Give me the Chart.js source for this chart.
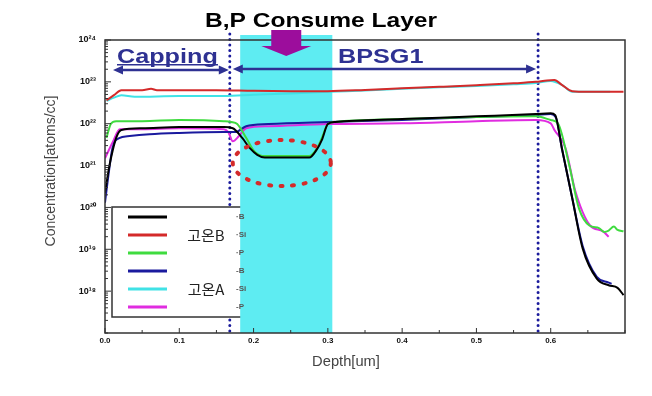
<!DOCTYPE html>
<html>
<head>
<meta charset="utf-8">
<script src="https://cdn.jsdelivr.net/npm/chart.js@4.4.0/dist/chart.umd.min.js"></script>
<style>
html, body { margin: 0; padding: 0; background: #fff; }
#wrap { width: 652px; height: 396px; }
</style>
</head>
<body>
<div id="wrap"><canvas id="simsChart" width="652" height="396"></canvas></div>
<script>
// Depth [um] / concentration [atoms/cc]
// 고온B
var depthBB  = [0.0, 0.005, 0.008, 0.015, 0.022, 0.05, 0.1, 0.16, 0.172, 0.185, 0.195, 0.205, 0.215, 0.25, 0.275, 0.285, 0.292, 0.3, 0.31, 0.4, 0.5, 0.58, 0.6, 0.606, 0.615, 0.629, 0.643, 0.662, 0.678, 0.69, 0.698];
var concBB   = [2.2e20, 8e20, 1.5e21, 4.6e21, 7.1e21, 7.8e21, 8.3e21, 8.3e21, 7.8e21, 4.5e21, 2.6e21, 1.8e21, 1.55e21, 1.55e21, 1.55e21, 2.4e21, 4.1e21, 9.8e21, 1.1e22, 1.29e22, 1.5e22, 1.7e22, 1.78e22, 1.6e22, 2.6e21, 1.66e20, 1.05e19, 2.0e18, 1.38e18, 1.2e18, 8e17];
var depthBSi = [0.002, 0.012, 0.022, 0.05, 0.062, 0.07, 0.1, 0.15, 0.2, 0.25, 0.3, 0.35, 0.4, 0.45, 0.5, 0.55, 0.58, 0.595, 0.605, 0.615, 0.629, 0.65, 0.698];
var concBSi  = [3.6e22, 4.8e22, 6.3e22, 6.3e22, 6.8e22, 6.3e22, 6.3e22, 6.3e22, 6.1e22, 6.0e22, 6.0e22, 6.4e22, 7.0e22, 7.6e22, 8.3e22, 9.2e22, 1.0e23, 1.08e23, 1.1e23, 8.5e22, 6.0e22, 5.8e22, 5.8e22];
var depthBP  = [0.002, 0.008, 0.015, 0.05, 0.1, 0.16, 0.17, 0.178, 0.19, 0.2, 0.212, 0.25, 0.275, 0.285, 0.292, 0.3, 0.31, 0.4, 0.5, 0.58, 0.6, 0.61, 0.625, 0.638, 0.652, 0.665, 0.672, 0.678, 0.685, 0.69, 0.698];
var concBP   = [4.6e21, 1.0e22, 1.15e22, 1.15e22, 1.23e22, 1.15e22, 1.1e22, 9.8e21, 4.6e21, 2.3e21, 1.7e21, 1.7e21, 1.7e21, 2.5e21, 4.6e21, 9.8e21, 1.1e22, 1.29e22, 1.45e22, 1.5e22, 1.23e22, 1.0e22, 1.0e21, 9.5e19, 3.7e19, 3.2e19, 2.6e19, 2.8e19, 3.5e19, 2.9e19, 2.7e19];
// 고온A
var depthAB  = [0.0, 0.005, 0.01, 0.02, 0.03, 0.06, 0.1, 0.16, 0.175, 0.19, 0.22, 0.3, 0.4, 0.5, 0.58, 0.6, 0.607, 0.615, 0.629, 0.643, 0.662, 0.678, 0.682];
var concAB   = [1.3e20, 6.6e20, 2.6e21, 4.6e21, 5.0e21, 5.6e21, 6.0e21, 6.3e21, 6.3e21, 8.7e21, 9.8e21, 1.1e22, 1.23e22, 1.45e22, 1.62e22, 1.7e22, 1.4e22, 2.6e21, 1.66e20, 1.2e19, 2.2e18, 1.6e18, 1.5e18];
var depthASi = [0.002, 0.012, 0.022, 0.04, 0.1, 0.16, 0.2, 0.25, 0.3, 0.35, 0.4, 0.45, 0.5, 0.55, 0.58, 0.6, 0.615, 0.629, 0.65, 0.68];
var concASi  = [3.5e22, 4.2e22, 4.8e22, 4.4e22, 4.6e22, 4.6e22, 4.9e22, 5.3e22, 5.8e22, 6.2e22, 6.8e22, 7.4e22, 8.0e22, 8.8e22, 9.4e22, 1.05e23, 8.5e22, 5.8e22, 5.8e22, 5.8e22];
var depthAP  = [0.0, 0.01, 0.02, 0.05, 0.1, 0.16, 0.166, 0.172, 0.18, 0.19, 0.22, 0.3, 0.4, 0.5, 0.58, 0.6, 0.605, 0.62, 0.633, 0.653, 0.67, 0.678];
var concAP   = [1.5e21, 3.5e21, 7.4e21, 7.4e21, 7.8e21, 7.4e21, 6.3e21, 3.8e21, 5.0e21, 7.8e21, 8.7e21, 9.8e21, 1.02e22, 1.15e22, 1.23e22, 1.02e22, 7.1e21, 2.6e21, 2.5e20, 3.7e19, 2.7e19, 2.0e19];

var xTickLabels = ["0.0", "0.1", "0.2", "0.3", "0.4", "0.5", "0.6"];
var yExponents  = [18, 19, 20, 21, 22, 23, 24];
var groupNames  = ["고온B", "고온A"];
var seriesTags  = ["·B", "·Si", "·P", "-B", "-Si", "-P"];

// layer marks (depth, um)
var cappingEnd = 0.168, bpsgEnd = 0.583;
var consumeFrom = 0.182, consumeTo = 0.306;

var SUP = { "0": "⁰", "1": "¹", "2": "²", "3": "³", "4": "⁴", "5": "⁵", "6": "⁶", "7": "⁷", "8": "⁸", "9": "⁹" };

function pts(xs, ys) {
    return xs.map(function (x, i) { return { x: x, y: ys[i] }; });
}

function line(label, xs, ys, color) {
    return { label: label, data: pts(xs, ys), borderColor: color, backgroundColor: color, showLine: true, borderWidth: 2, pointRadius: 0, fill: false };
}

function wideText(ctx, text, x, y, sx, align) {
    ctx.save();
    ctx.translate(x, y);
    ctx.scale(sx, 1);
    ctx.textAlign = align;
    ctx.fillText(text, 0, 0);
    ctx.restore();
}

function doubleArrow(ctx, x1, x2, y) {
    ctx.beginPath();
    ctx.moveTo(x1 + 6, y); ctx.lineTo(x2 - 6, y);
    ctx.stroke();
    ctx.beginPath();
    ctx.moveTo(x1, y); ctx.lineTo(x1 + 10, y - 4.5); ctx.lineTo(x1 + 10, y + 4.5); ctx.closePath();
    ctx.moveTo(x2, y); ctx.lineTo(x2 - 10, y - 4.5); ctx.lineTo(x2 - 10, y + 4.5); ctx.closePath();
    ctx.fill();
}

var overlay = {
    id: 'overlay',
    beforeDatasetsDraw: function (chart) {
        var ctx = chart.ctx, a = chart.chartArea, xs = chart.scales.x;
        ctx.save();
        // dotted layer boundaries
        ctx.strokeStyle = '#1b1b9c';
        ctx.lineWidth = 3;
        ctx.lineCap = 'round';
        ctx.setLineDash([0, 5.5]);
        [cappingEnd, bpsgEnd].forEach(function (d) {
            var px = xs.getPixelForValue(d);
            ctx.beginPath(); ctx.moveTo(px, a.top - 6); ctx.lineTo(px, a.bottom); ctx.stroke();
        });
        ctx.setLineDash([]);
        ctx.lineCap = 'butt';

        // legend box
        var bx = a.left + 7, by = 207;
        ctx.fillStyle = '#fff';
        ctx.fillRect(bx, by, 140, 110);
        ctx.strokeStyle = '#333';
        ctx.lineWidth = 1.5;
        ctx.strokeRect(bx, by, 140, 110);
        chart.data.datasets.forEach(function (ds, i) {
            var ly = by + 10 + i * 18;
            ctx.strokeStyle = ds.borderColor;
            ctx.lineWidth = 3;
            ctx.beginPath(); ctx.moveTo(bx + 16, ly); ctx.lineTo(bx + 55, ly); ctx.stroke();
        });

        // B,P consume band
        var x1 = xs.getPixelForValue(consumeFrom), x2 = xs.getPixelForValue(consumeTo);
        ctx.fillStyle = '#5eecf2';
        ctx.fillRect(x1, a.top - 5, x2 - x1, a.bottom - a.top + 5);
        ctx.restore();
    },
    afterDatasetsDraw: function (chart) {
        var ctx = chart.ctx, a = chart.chartArea, xs = chart.scales.x, ys = chart.scales.y;
        ctx.save();

        // frame
        ctx.strokeStyle = '#333';
        ctx.lineWidth = 1.5;
        ctx.strokeRect(a.left, a.top, a.right - a.left, a.bottom - a.top);

        // inward ticks
        ctx.lineWidth = 1;
        ys.ticks.forEach(function (t, i) {
            var m = t.value / Math.pow(10, Math.floor(Math.log10(t.value) + 1e-9));
            if (Math.abs(m - 1.5) < 0.01) return;
            var py = ys.getPixelForTick(i);
            var len = t.label ? 6 : 3;
            ctx.beginPath(); ctx.moveTo(a.left, py); ctx.lineTo(a.left + len, py); ctx.stroke();
        });
        xs.ticks.forEach(function (t, i) {
            var px = xs.getPixelForTick(i);
            var len = t.label ? 5 : 3;
            ctx.beginPath(); ctx.moveTo(px, a.bottom); ctx.lineTo(px, a.bottom - len); ctx.stroke();
        });

        // legend text
        var bx = a.left + 7, by = 207;
        ctx.fillStyle = '#222';
        ctx.font = '15px "Noto Sans CJK KR"';
        ctx.textAlign = 'center';
        ctx.textBaseline = 'middle';
        ctx.fillText(groupNames[0], bx + 94, by + 28);
        ctx.fillText(groupNames[1], bx + 94, by + 82);
        ctx.font = 'bold 8px "Liberation Sans"';
        ctx.fillStyle = '#555';
        ctx.textAlign = 'left';
        seriesTags.forEach(function (tag, i) {
            ctx.fillText(tag, bx + 124, by + 10 + i * 18);
        });

        // red dotted ellipse on the consumed layer
        ctx.strokeStyle = '#d42a2a';
        ctx.lineWidth = 4;
        ctx.lineCap = 'round';
        ctx.setLineDash([2, 9.5]);
        ctx.beginPath();
        ctx.ellipse(xs.getPixelForValue(0.238), 163, 49, 23, 0, 0, Math.PI * 2);
        ctx.stroke();
        ctx.setLineDash([]);
        ctx.lineCap = 'butt';

        // layer arrows
        var navy = '#2e3192';
        ctx.strokeStyle = navy;
        ctx.fillStyle = navy;
        ctx.lineWidth = 2.5;
        var xc = xs.getPixelForValue(cappingEnd), xb = xs.getPixelForValue(bpsgEnd);
        doubleArrow(ctx, a.left + 8, xc - 1, 70);
        doubleArrow(ctx, xc + 3, xb - 2, 69);

        ctx.textBaseline = 'alphabetic';
        ctx.font = 'bold 21px "Liberation Sans"';
        wideText(ctx, 'Capping', 117, 63, 1.2, 'left');
        ctx.fillRect(117, 64, 101, 1.5);
        wideText(ctx, 'BPSG1', 338, 63, 1.2, 'left');

        // purple arrow
        var pc = (xs.getPixelForValue(consumeFrom) + xs.getPixelForValue(consumeTo)) / 2;
        ctx.fillStyle = '#9c0d9c';
        ctx.beginPath();
        ctx.moveTo(pc - 15, 30); ctx.lineTo(pc + 15, 30); ctx.lineTo(pc + 15, 46);
        ctx.lineTo(pc + 25, 46); ctx.lineTo(pc, 56); ctx.lineTo(pc - 25, 46);
        ctx.lineTo(pc - 15, 46); ctx.closePath();
        ctx.fill();

        // title
        ctx.fillStyle = '#000';
        ctx.font = 'bold 21px "Liberation Sans"';
        wideText(ctx, 'B,P Consume Layer', 321, 27, 1.17, 'center');

        // axis titles
        ctx.fillStyle = '#444';
        ctx.font = '14px "Liberation Sans"';
        wideText(ctx, 'Depth[um]', 346, 366, 1.05, 'center');
        ctx.save();
        ctx.translate(55, 171);
        ctx.rotate(-Math.PI / 2);
        ctx.textAlign = 'center';
        ctx.fillText('Concentration[atoms/cc]', 0, 0);
        ctx.restore();

        ctx.restore();
    }
};

var ctxEl = document.getElementById('simsChart');
var simsChart = new Chart(ctxEl, {
    type: 'scatter',
    data: {
        datasets: [
            line('고온B B', depthBB, concBB, '#000000'),
            line('고온B Si', depthBSi, concBSi, '#d42a2a'),
            line('고온B P', depthBP, concBP, '#3fdb3f'),
            line('고온A B', depthAB, concAB, '#1a1a9e'),
            line('고온A Si', depthASi, concASi, '#40e2e6'),
            line('고온A P', depthAP, concAP, '#e02ce0')
        ]
    },
    options: {
        responsive: false,
        animation: false,
        layout: { padding: { top: 40, right: 27, left: 0, bottom: 0 } },
        elements: { line: { cubicInterpolationMode: 'monotone' } },
        plugins: {
            legend: { display: false },
            tooltip: { enabled: false }
        },
        scales: {
            x: {
                type: 'linear',
                min: 0,
                max: 0.7,
                afterFit: function (s) { s.height = 63; },
                grid: { display: false, drawTicks: false },
                border: { display: false },
                ticks: {
                    stepSize: 0.05,
                    autoSkip: false,
                    maxRotation: 0,
                    padding: 3,
                    color: '#111',
                    font: { family: 'Liberation Sans', size: 8, weight: 'bold' },
                    callback: function (v) {
                        var k = Math.round(v * 20);
                        if (k % 2 !== 0) return '';
                        return xTickLabels[k / 2] || '';
                    }
                }
            },
            y: {
                type: 'logarithmic',
                min: 1e17,
                max: 1e24,
                afterFit: function (s) { s.width = 105; },
                grid: { display: false, drawTicks: false },
                border: { display: false },
                ticks: {
                    autoSkip: false,
                    padding: 9,
                    color: '#111',
                    font: { family: 'Liberation Sans', size: 9, weight: 'bold' },
                    callback: function (v) {
                        var e = Math.log10(v);
                        var r = Math.round(e);
                        if (Math.abs(e - r) > 1e-6 || yExponents.indexOf(r) < 0) return '';
                        return '10' + String(r).split('').map(function (c) { return SUP[c]; }).join('');
                    }
                }
            }
        }
    },
    plugins: [overlay]
});
</script>
</body>
</html>
